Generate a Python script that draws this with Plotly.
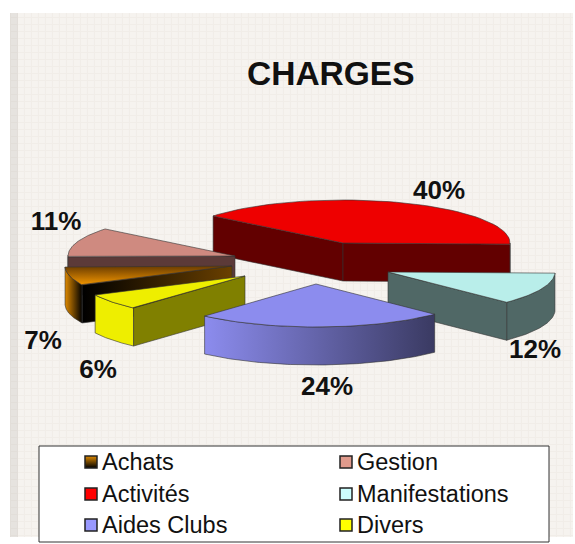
import numpy as np
import plotly.graph_objects as go

categories = ["Achats", "Gestion", "Activités", "Manifestations", "Aides Clubs", "Divers"]
values = [6.9, 11.2, 39.6, 12.0, 24.2, 6.1]
title = "CHARGES"

W, H = 575, 544
START = -153.8
RX, RY, DEPTH = 167, 43, 38
apex = {"Achats": (232, 266), "Gestion": (235, 256), "Activités": (343, 243),
        "Manifestations": (388, 272), "Aides Clubs": (316, 284), "Divers": (245, 276)}
label_pos = {"Achats": (43, 342), "Gestion": (56, 223), "Activités": (439, 192),
             "Manifestations": (535, 351), "Aides Clubs": (327, 388), "Divers": (98, 371)}
legend_pos = {"Achats": (91, 462), "Gestion": (346, 462), "Activités": (91, 494),
              "Manifestations": (346, 494), "Aides Clubs": (91, 525), "Divers": (346, 525)}
EDGE = "rgba(50,50,50,0.75)"
sty = {
    "Achats": dict(top=("vertical", "#f09400", "#6a3c00"), radial=("horizontal", "#000000", "#6a4000"),
                   arc=("horizontal", "#e08a00", "#000000"), legend="#e08a00", faces=[0]),
    "Gestion": dict(top="#cf8a80", radial="#5c3a38", arc="#5c3a38", legend="#e09a8c", faces=[0]),
    "Activités": dict(top="#ee0000", radial="#620000", arc="#620000", legend="#ff0000", faces=[0, 1]),
    "Manifestations": dict(top="#b9eeea", radial="#506866", arc="#506866", legend="#ccffff", faces=[1]),
    "Aides Clubs": dict(top="#8c8cee", radial=None, arc=("horizontal", "#8c8cee", "#3a3a62"), legend="#9999ff", faces=[]),
    "Divers": dict(top="#eeee00", radial="#808000", arc="#eeee00", legend="#ffff00", faces=[0]),
}
paint_order = ["Activités", "Gestion", "Achats", "Divers", "Manifestations", "Aides Clubs"]

spans, a = {}, START
for c, v in zip(categories, values):
    spans[c] = (a, a - v * 3.6)
    a -= v * 3.6


def pt(c, deg):
    r = np.radians(deg)
    return apex[c][0] + RX * np.cos(r), apex[c][1] - RY * np.sin(r)


def poly(xs, ys, fill, name):
    kw = dict(x=list(xs) + [xs[0]], y=list(ys) + [ys[0]], mode="lines", fill="toself", hoverinfo="skip",
              name=name, showlegend=False, line=dict(color=EDGE, width=0.8))
    if isinstance(fill, tuple):
        kw["fillgradient"] = dict(type=fill[0], colorscale=[[0, fill[1]], [1, fill[2]]])
        kw["fillcolor"] = fill[1]
    else:
        kw["fillcolor"] = fill
    return go.Scatter(**kw)


fig = go.Figure()
# textured panel
fig.add_trace(go.Scatter(x=[10, 573, 573, 10, 10], y=[13, 13, 537, 537, 13], mode="lines", fill="toself",
                         line=dict(width=0), fillcolor="#f4f1ed", hoverinfo="skip", showlegend=False,
                         fillpattern=dict(shape="+", size=7, solidity=0.3, fgcolor="#ebe7e2", bgcolor="#f6f3ef")))
# darker left band of the panel
fig.add_trace(go.Scatter(x=[10, 18, 18, 10, 10], y=[13, 13, 537, 537, 13], mode="lines", fill="toself",
                         line=dict(width=0), fillcolor="rgba(170,165,160,0.2)", hoverinfo="skip", showlegend=False))

for c in paint_order:
    a0, a1 = spans[c]
    s = sty[c]
    ang = np.linspace(a0, a1, 48)
    ex, ey = zip(*[pt(c, t) for t in ang])
    ax, ay = apex[c]
    # outer wall: only the part of the arc that faces the viewer
    vis = [t for t in np.linspace(a0, a1, 96) if np.sin(np.radians(t)) <= 0.02]
    if vis:
        vx, vy = zip(*[pt(c, t) for t in vis])
        fig.add_trace(poly(list(vx) + list(vx)[::-1], list(vy) + [y + DEPTH for y in vy][::-1], s["arc"], c + " wall"))
    # radial faces
    for i in s["faces"]:
        px, py = pt(c, (a0, a1)[i])
        fig.add_trace(poly([ax, px, px, ax], [ay, py, py + DEPTH, ay + DEPTH], s["radial"], c + " face"))
    fig.add_trace(poly([ax] + list(ex), [ay] + list(ey), s["top"], c))

# percentage labels
fig.add_trace(go.Scatter(x=[label_pos[c][0] for c in categories], y=[label_pos[c][1] for c in categories],
                         text=[f"{round(v)}%" for v in values], mode="text", hoverinfo="skip", showlegend=False,
                         textfont=dict(family="Liberation Sans", size=26, color="#111111", weight="bold")))
# legend box
fig.add_trace(go.Scatter(x=[39, 549, 549, 39, 39], y=[446, 446, 542, 542, 446], mode="lines", fill="toself",
                         fillcolor="#ffffff", line=dict(color="#333333", width=1), hoverinfo="skip", showlegend=False))
for c in categories:
    m = dict(symbol="square", size=12, color=sty[c]["legend"], line=dict(color="#222222", width=1.5))
    if c == "Achats":
        m["gradient"] = dict(type="vertical", color="#000000")
    lx, ly = legend_pos[c]
    fig.add_trace(go.Scatter(x=[lx], y=[ly], mode="markers", marker=m, hoverinfo="skip", showlegend=False))
    fig.add_trace(go.Scatter(x=[lx + 11], y=[ly + 2], mode="text", text=[c], textposition="middle right",
                             hoverinfo="skip", showlegend=False,
                             textfont=dict(family="Liberation Sans", size=23.5, color="#111111")))
fig.add_annotation(x=331, y=73, xref="x", yref="y", text=f"<b>{title}</b>", showarrow=False,
                   font=dict(family="Liberation Sans", size=33.5, color="#111111"))

fig.update_layout(width=W, height=H, margin=dict(l=0, r=0, t=0, b=0), paper_bgcolor="#ffffff", plot_bgcolor="#ffffff",
                  xaxis=dict(range=[0, W], visible=False, fixedrange=True),
                  yaxis=dict(range=[H, 0], visible=False, fixedrange=True), showlegend=False)
fig.write_html("out.html", config={"displayModeBar": False},
               post_script="document.body.style.margin='0';document.body.style.overflow='hidden';")
